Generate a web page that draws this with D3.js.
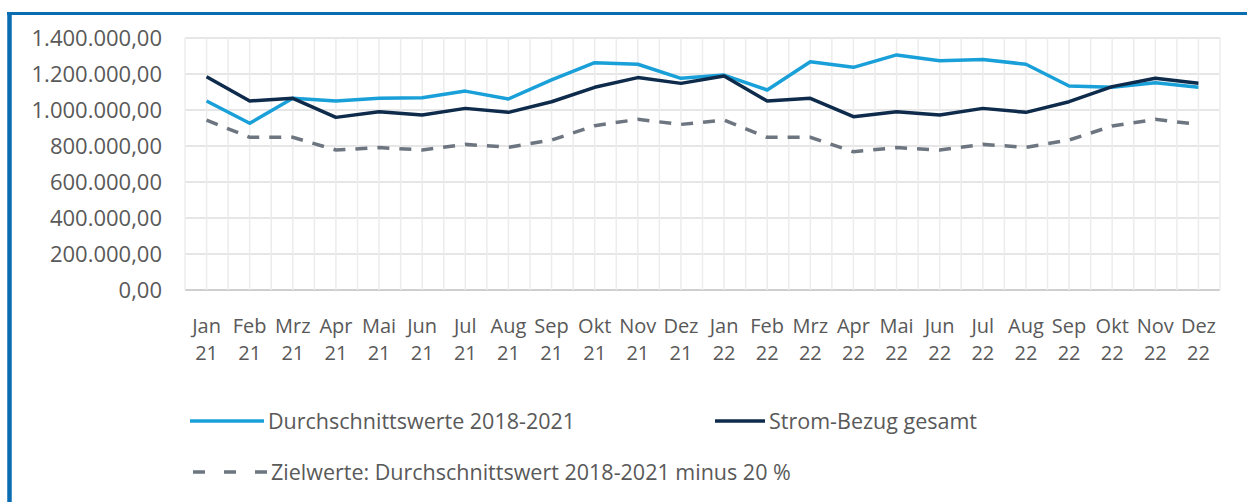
<!DOCTYPE html>
<html>
<head>
<meta charset="utf-8">
<script src="https://cdn.jsdelivr.net/npm/d3@7"></script>
<style>
  body { margin: 0; background: #fff; }
  text { font-family: "Open Sans", sans-serif; fill: #595959; }
</style>
</head>
<body>
<div id="chart"></div>
<script>
// categories + series
const months = ['Jan','Feb','Mrz','Apr','Mai','Jun','Jul','Aug','Sep','Okt','Nov','Dez',
                'Jan','Feb','Mrz','Apr','Mai','Jun','Jul','Aug','Sep','Okt','Nov','Dez']
const years = ['21','21','21','21','21','21','21','21','21','21','21','21',
               '22','22','22','22','22','22','22','22','22','22','22','22']

const durchschnitt = [1050000, 926000, 1065000, 1050000, 1065000, 1068000, 1105000, 1061000, 1167000, 1263000, 1254000, 1176000,
                      1194000, 1111000, 1268000, 1237000, 1306000, 1274000, 1281000, 1254000, 1133000, 1126000, 1152000, 1126000]
const stromBezug = [1185000, 1050000, 1065000, 959000, 990000, 972000, 1009000, 987000, 1046000, 1126000, 1180000, 1148000,
                    1189000, 1050000, 1065000, 963000, 990000, 972000, 1009000, 987000, 1046000, 1130000, 1176000, 1148000]
const zielwerte = [944000, 848000, 848000, 778000, 791000, 778000, 809000, 793000, 833000, 913000, 948000, 920000,
                   944000, 848000, 848000, 768000, 791000, 778000, 809000, 793000, 833000, 911000, 948000, 920000]
const yTicks = [0, 200000, 400000, 600000, 800000, 1000000, 1200000, 1400000]

const seriesNames = ['Durchschnittswerte 2018-2021', 'Strom-Bezug gesamt',
                     'Zielwerte: Durchschnittswert 2018-2021 minus 20 %']

const width = 1247, height = 502
const plotL = 185, plotR = 1220, plotT = 38, plotB = 290

const svg = d3.select('#chart').append('svg')
  .attr('width', width)
  .attr('height', height)

// frame
svg.append('line').attr('x1', 7).attr('x2', width).attr('y1', 13.5).attr('y2', 13.5)
  .attr('stroke', '#0b6db1').attr('stroke-width', 3)
svg.append('line').attr('x1', 9.5).attr('x2', 9.5).attr('y1', 12).attr('y2', height)
  .attr('stroke', '#0b6db1').attr('stroke-width', 4.5)

const cats = months.map((m, i) => m + ' ' + years[i] + '_' + i)

const x = d3.scaleBand().domain(cats).range([plotL, plotR])
const y = d3.scaleLinear().domain([0, 1400000]).range([plotB, plotT])
const cx = (i) => x(cats[i]) + x.bandwidth() / 2

const de = d3.formatLocale({ decimal: ',', thousands: '.', grouping: [3], currency: ['', ' €'] })
const fmt = de.format(',.2f')

// gridlines
const grid = svg.append('g')
grid.selectAll('.hg').data(yTicks).enter().append('line')
  .attr('x1', plotL).attr('x2', plotR)
  .attr('y1', d => y(d)).attr('y2', d => y(d))
  .attr('stroke', d => d === 0 ? '#cfcfcf' : '#dedede')
  .attr('stroke-width', d => d === 0 ? 2 : 1.5)

let vx = []
cats.forEach((c, i) => { vx.push(x(c)); vx.push(cx(i)) })
vx.push(plotR)
grid.selectAll('.vg').data(vx).enter().append('line')
  .attr('x1', d => d).attr('x2', d => d)
  .attr('y1', plotT).attr('y2', plotB)
  .attr('stroke', '#ececec').attr('stroke-width', 1.5)

// y axis
const yAxis = svg.append('g')
  .attr('transform', `translate(${plotL},0)`)
  .call(d3.axisLeft(y).tickValues(yTicks).tickFormat(fmt).tickSize(0).tickPadding(23))
yAxis.select('.domain').remove()
yAxis.selectAll('text').style('font-size', '22px').style('font-family', '"Open Sans", sans-serif').attr('fill', '#595959')

// x axis labels
const xAxis = svg.append('g')
  .attr('transform', `translate(0,${plotB})`)
  .call(d3.axisBottom(x).tickSize(0).tickFormat(''))
xAxis.select('.domain').remove()
xAxis.selectAll('.tick').each(function (d, i) {
  const t = d3.select(this).append('text')
    .attr('text-anchor', 'middle')
    .style('font-size', '20px')
    .attr('fill', '#595959')
  t.append('tspan').attr('x', 0).attr('y', 43).text(months[i])
  t.append('tspan').attr('x', 0).attr('y', 70).text(years[i])
})

// lines
const line = d3.line().x((d, i) => cx(i)).y(d => y(d))

svg.append('path').datum(zielwerte)
  .attr('d', line).attr('fill', 'none')
  .attr('stroke', '#6d7680').attr('stroke-width', 3.5)
  .attr('stroke-dasharray', '12,10')

svg.append('path').datum(durchschnitt)
  .attr('d', line).attr('fill', 'none')
  .attr('stroke', '#1aa0d8').attr('stroke-width', 3.5)
  .attr('stroke-linejoin', 'round')

svg.append('path').datum(stromBezug)
  .attr('d', line).attr('fill', 'none')
  .attr('stroke', '#0e2b4c').attr('stroke-width', 3.5)
  .attr('stroke-linejoin', 'round')

// legend
const legend = [
  { name: seriesNames[0], color: '#1aa0d8', dash: null, x: 190, y: 421 },
  { name: seriesNames[1], color: '#0e2b4c', dash: null, x: 715, y: 421, len: 50 },
  { name: seriesNames[2], color: '#6d7680', dash: '12,19', x: 193, y: 472, len: 74 }
]
const lg = svg.append('g').selectAll('g').data(legend).enter().append('g')
lg.append('line')
  .attr('x1', d => d.x).attr('x2', d => d.x + (d.len || 74))
  .attr('y1', d => d.y).attr('y2', d => d.y)
  .attr('stroke', d => d.color).attr('stroke-width', 3.5)
  .attr('stroke-dasharray', d => d.dash)
lg.append('text')
  .attr('x', d => d.x + (d.len || 74) + 4)
  .attr('y', d => d.y)
  .attr('dy', '0.35em')
  .style('font-size', '21.5px')
  .attr('fill', '#595959')
  .text(d => d.name)
</script>
</body>
</html>
